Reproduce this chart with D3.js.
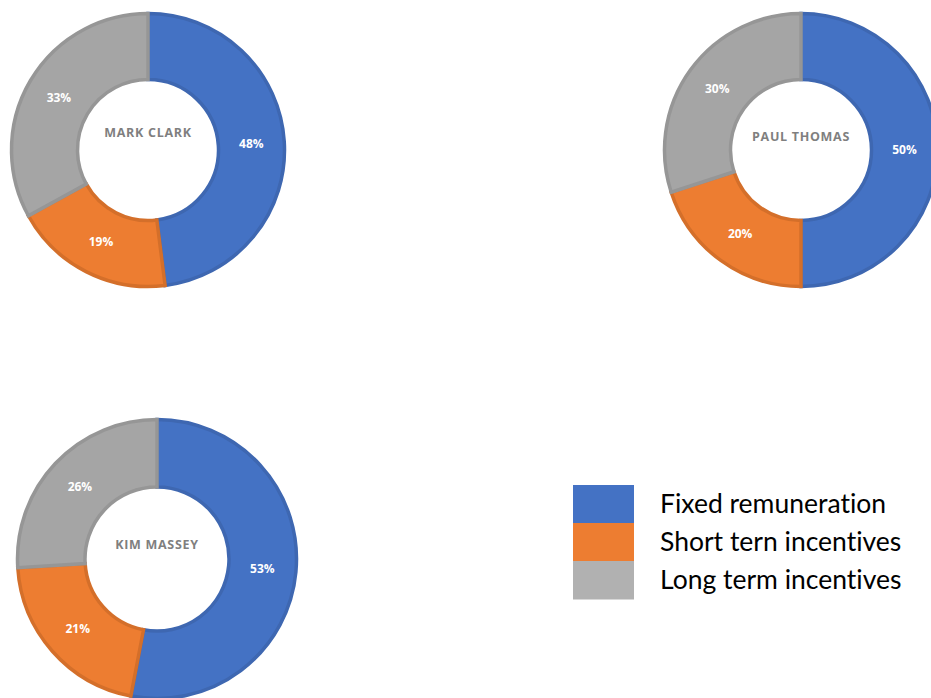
<!DOCTYPE html>
<html>
<head>
<meta charset="utf-8">
<script src="https://cdn.jsdelivr.net/npm/d3@7"></script>
<style>
  body { margin: 0; background: #fff; }
  svg { display: block; }
</style>
</head>
<body>
<svg id="chart"></svg>
<script>
width = 931
height = 698

// data
const categories = ["Fixed remuneration", "Short tern incentives", "Long term incentives"];
const people = ["MARK CLARK", "PAUL THOMAS", "KIM MASSEY"];
const markClark = [48, 19, 33];
const paulThomas = [50, 20, 30];
const kimMassey = [53, 21, 26];
const values = [markClark, paulThomas, kimMassey];

// layout (not data)
const layout = [
  { cx: 148, cy: 150, r: 138, titleDy: -17 },
  { cx: 801, cy: 150, r: 138, titleDy: -13 },
  { cx: 157, cy: 559, r: 141, titleDy: -14 }
];
const fills = ["#4472C4", "#ED7D31", "#A5A5A5"];
const strokes = ["#3E67B1", "#D46F2A", "#969696"];
const legendFills = ["#4472C4", "#ED7D31", "#B1B1B1"];

const color = d3.scaleOrdinal().domain(categories).range(fills);
const edge = d3.scaleOrdinal().domain(categories).range(strokes);
const legColor = d3.scaleOrdinal().domain(categories).range(legendFills);

const svg = d3.select("#chart")
    .attr("width", width)
    .attr("height", height);

const pie = d3.pie().sort(null).value(function (d) { return d.value });

people.forEach(function (name, i) {
  const L = layout[i];
  const rows = categories.map(function (c, j) { return { cat: c, value: values[i][j] } });
  const arc = d3.arc().innerRadius(L.r * 0.5).outerRadius(L.r);
  const inner = d3.arc().innerRadius(L.r * 0.5 + 1.5).outerRadius(L.r - 1.5);

  const g = svg.append("g")
      .attr("transform", "translate(" + L.cx + "," + L.cy + ")");

  g.selectAll("path.slice")
    .data(pie(rows))
    .join("path")
      .attr("class", "slice")
      .attr("d", inner)
      .attr("fill", function (d) { return color(d.data.cat) })
      .attr("stroke", function (d) { return edge(d.data.cat) })
      .attr("stroke-width", 3.5)
      .attr("stroke-linejoin", "miter");

  g.selectAll("text.pct")
    .data(pie(rows))
    .join("text")
      .attr("class", "pct")
      .attr("transform", function (d) { return "translate(" + arc.centroid(d) + ")" })
      .attr("text-anchor", "middle")
      .attr("dy", "0.35em")
      .attr("fill", "#fff")
      .attr("font-family", "'Open Sans', sans-serif")
      .attr("font-weight", "bold")
      .attr("font-size", 12)
      .text(function (d) { return d.data.value + "%" });

  g.append("text")
      .attr("y", L.titleDy)
      .attr("dy", "0.35em")
      .attr("text-anchor", "middle")
      .attr("fill", "#7F7F7F")
      .attr("font-family", "'Open Sans', sans-serif")
      .attr("font-weight", "bold")
      .attr("font-size", 12.5)
      .attr("letter-spacing", 0.7)
      .text(name);
});

// legend
const legY = d3.scaleBand().domain(categories).range([485, 599]);

const legend = svg.append("g");
legend.selectAll("rect")
  .data(categories)
  .join("rect")
    .attr("x", 573)
    .attr("y", function (d) { return legY(d) })
    .attr("width", 61)
    .attr("height", legY.bandwidth() + 0.5)
    .attr("fill", legColor);

legend.selectAll("text")
  .data(categories)
  .join("text")
    .attr("x", 660)
    .attr("y", function (d) { return legY(d) + legY.bandwidth() / 2 })
    .attr("dy", "0.35em")
    .attr("fill", "#000")
    .attr("font-family", "Lato, sans-serif")
    .attr("font-size", 26.5)
    .style("font-variant-ligatures", "none")
    .text(function (d) { return d });
</script>
</body>
</html>
